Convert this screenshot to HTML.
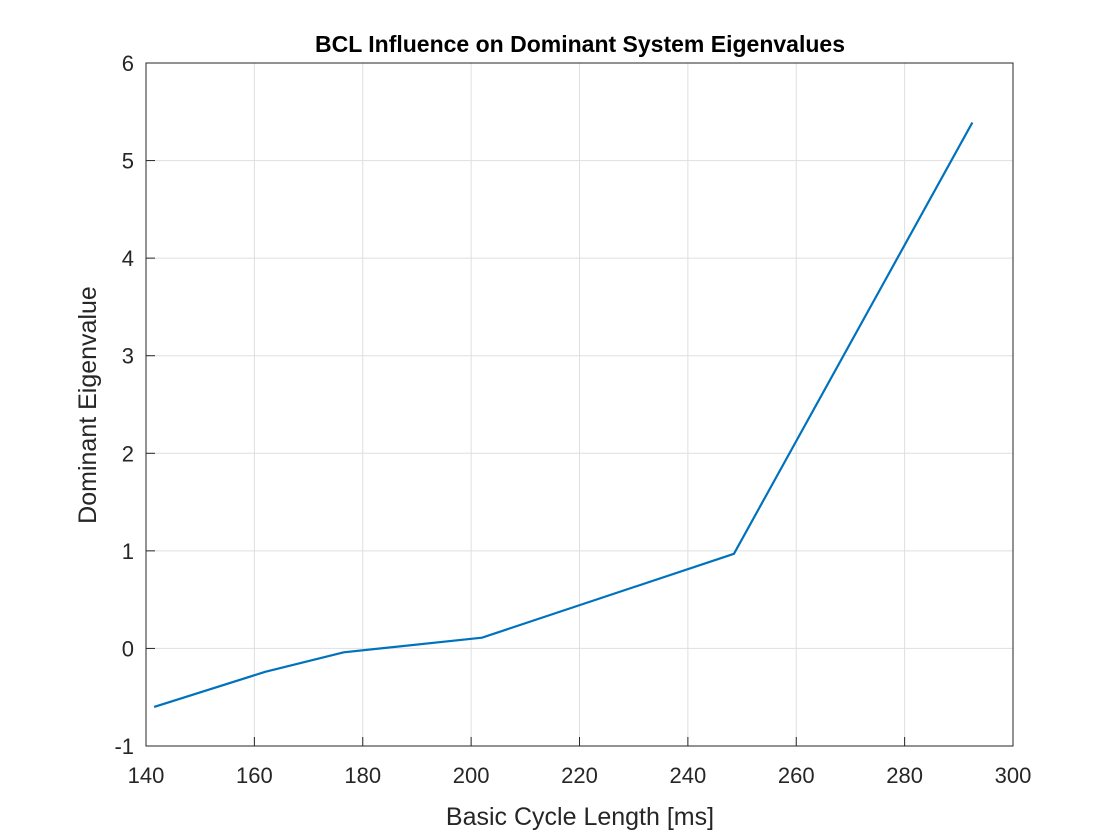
<!DOCTYPE html>
<html><head><meta charset="utf-8"><style>
body{margin:0;background:#fff;}
svg{display:block;font-family:"Liberation Sans",Arial,sans-serif;}
</style></head><body>
<svg id="chart" width="1120" height="840">
<rect width="1120" height="840" fill="#fff"/>
<g id="grid"></g>
<g id="axes"></g>
<g id="series"></g>
<text x="580" y="52" text-anchor="middle" font-size="23" font-weight="bold" fill="#000">BCL Influence on Dominant System Eigenvalues</text>
<text x="580" y="825" text-anchor="middle" font-size="25" fill="#262626">Basic Cycle Length [ms]</text>
<text transform="translate(96,405) rotate(-90)" text-anchor="middle" font-size="25" fill="#262626">Dominant Eigenvalue</text>
</svg>
<script>
const bcl = [141.5, 162, 176.5, 202, 248.5, 292.5];
const eigen = [-0.6, -0.24, -0.04, 0.11, 0.97, 5.39];
const xTicks = [140, 160, 180, 200, 220, 240, 260, 280, 300];
const yTicks = [-1, 0, 1, 2, 3, 4, 5, 6];
const L=146,R=1013,T=63,B=746;
const xs=v=>L+(v-140)/160*(R-L);
const ys=v=>B-(v+1)/7*(B-T);
const NS="http://www.w3.org/2000/svg";
function mk(tag,attrs,parent,txt){const e=document.createElementNS(NS,tag);for(const k in attrs)e.setAttribute(k,attrs[k]);if(txt!==undefined)e.textContent=txt;parent.appendChild(e);return e;}
const grid=document.getElementById('grid'),axes=document.getElementById('axes'),series=document.getElementById('series');
xTicks.forEach(t=>{const x=xs(t);
 const g=mk('line',{x1:x,x2:x,y1:T,y2:B,stroke:'#dfdfdf','stroke-width':1},grid);
 
 
 const tk=mk('line',{x1:x,x2:x,y1:B,y2:B-9,stroke:'#262626','stroke-width':1},axes);
 
 
 const lb=mk('text',{x:x,y:B+37,'text-anchor':'middle','font-size':22,fill:'#262626'},axes,String(t));
 
 
});
yTicks.forEach(t=>{const y=ys(t);
 const g=mk('line',{x1:L,x2:R,y1:y,y2:y,stroke:'#dfdfdf','stroke-width':1},grid);
 
 
 const tk=mk('line',{x1:L,x2:L+9,y1:y,y2:y,stroke:'#262626','stroke-width':1},axes);
 
 
 const lb=mk('text',{x:L-12,y:y+8,'text-anchor':'end','font-size':22,fill:'#262626'},axes,String(t));
 
 
});
const box=mk('rect',{x:L,y:T,width:R-L,height:B-T,fill:'none',stroke:'#262626','stroke-width':1},axes);


const pts=bcl.map((v,i)=>xs(v)+','+ys(eigen[i])).join(' ');
const line=mk('polyline',{points:pts,fill:'none',stroke:'#0072bd','stroke-width':2.2,'stroke-linejoin':'round'},series);


</script>
</body></html>
